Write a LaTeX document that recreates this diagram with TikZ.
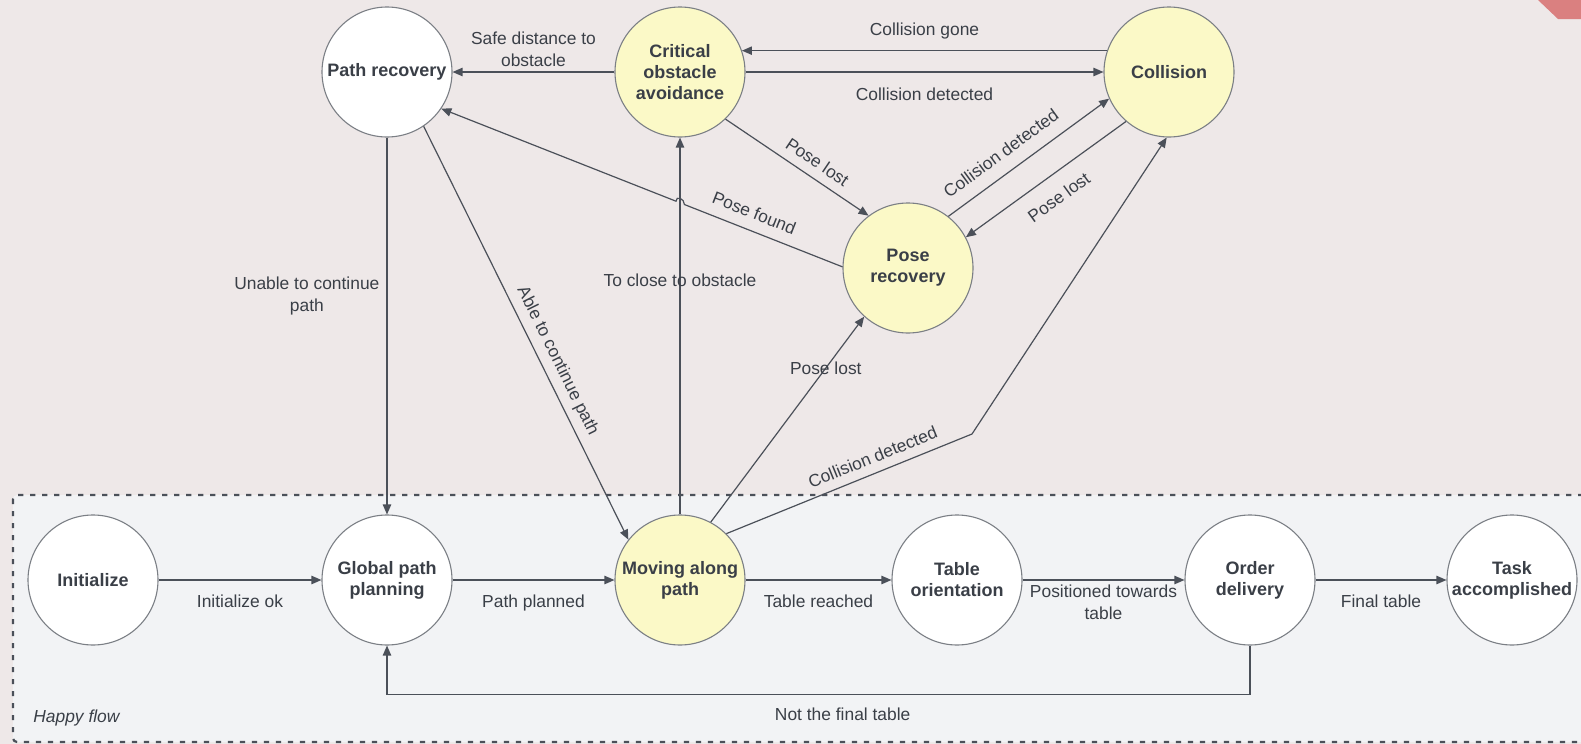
\documentclass[tikz,border=0pt]{standalone}
\usepackage{fontspec}
\setmainfont{Liberation Sans}
\usetikzlibrary{arrows.meta,positioning,calc}
\definecolor{Ink}{HTML}{3A3F47}
\definecolor{Wire}{HTML}{4B5059}
\definecolor{Edge}{HTML}{7B7F85}
\definecolor{Sun}{HTML}{FBF9C7}
\definecolor{Canvas}{HTML}{EEE8E8}
\definecolor{Lane}{HTML}{F2F3F5}
\definecolor{Coral}{HTML}{DA8080}
\tikzset{state/.style={circle,draw=Edge,line width=.55pt,fill=white,minimum size=65pt,inner sep=0pt,align=center,font=\bfseries\fontsize{9}{10.5}\selectfont,text=Ink},hot/.style={state,fill=Sun},flow/.style={-{Triangle[length=5pt,width=4.2pt]},line width=.6pt,draw=Wire},lab/.style={font=\fontsize{8.7}{11}\selectfont,text=Ink,align=center,inner sep=1.5pt}}

\begin{document}
\begin{tikzpicture}[x=.5pt,y=-.5pt]
\useasboundingbox (0,0) rectangle (1581,744);
\clip (0,0) rectangle (1581,744);
\fill[Canvas] (0,0) rectangle (1581,744);
\fill[Coral] (1538,0) -- (1558,19) -- (1581,19) -- (1581,0) -- cycle;
\draw[draw=Wire,fill=Lane,line width=1.1pt,dash pattern=on 2.6pt off 3.4pt,rounded corners=2pt] (13,495) rectangle (1600,742);
\node[lab,anchor=west,font=\itshape\fontsize{8.7}{11}\selectfont] (happy) at (30,718) {Happy flow};

\node[state] (pathrec) at (387,72) {Path recovery};
\node[hot] (critical) at (680,72) {Critical\\obstacle\\avoidance};
\node[hot] (collision) at (1169,72) {Collision};
\node[hot] (poserec) at (908,268) {Pose\\recovery};

\node[state] (init) at (93,580) {Initialize};
\node[state] (global) at (387,580) {Global path\\planning};
\node[hot] (moving) at (680,580) {Moving along\\path};
\node[state] (tableor) at (957,580) {Table\\orientation};
\node[state] (order) at (1250,580) {Order\\delivery};
\node[state] (task) at (1512,580) {Task\\accomplished};

\coordinate (kink) at (972,434);
\coordinate (hopR) at ($(poserec.179)!.394!(pathrec.326)$);
\coordinate (hopL) at ($(poserec.179)!.415!(pathrec.326)$);

\draw[flow] (critical.west) -- node[lab,above=1pt]{Safe distance to\\obstacle} (pathrec.east);
\draw[flow] (collision.161) -- node[lab,above=4pt]{Collision gone} (critical.19);
\draw[flow] (critical.east) -- node[lab,below=6pt]{Collision detected} (collision.west);
\draw[flow] (critical.314) -- node[lab,sloped,above=3pt,pos=.58]{Pose lost} (poserec.127);
\draw[flow] (poserec.52) -- node[lab,sloped,above=5pt,pos=.4]{Collision detected} (collision.204);
\draw[flow] (collision.229) -- node[lab,sloped,below=6pt,pos=.5]{Pose lost} (poserec.28);
\draw[flow] (poserec.179) -- node[lab,sloped,above=4pt,pos=.6]{Pose found} (hopR)
  .. controls +(0,-6) and +(0,-6) .. (hopL) -- (pathrec.326);
\draw[flow] (pathrec.south) -- node[lab,left=2pt,pos=.42]{Unable to continue\\path} (global.north);
\draw[flow] (pathrec.304) -- node[lab,sloped,above=2pt,pos=.585]{Able to continue path} (moving.142);
\draw[flow] (moving.north) -- node[lab,pos=.62]{To close to obstacle} (critical.south);
\draw[flow] (moving.62) -- node[lab,pos=.75]{Pose lost} (poserec.228);
\draw[flow] (moving.45) -- node[lab,sloped,above=3pt,pos=.62]{Collision detected} (kink) -- (collision.268);

\draw[flow] (init) -- node[lab,below=5.5pt]{Initialize ok} (global);
\draw[flow] (global) -- node[lab,below=5.5pt]{Path planned} (moving);
\draw[flow] (moving) -- node[lab,below=5.5pt]{Table reached} (tableor);
\draw[flow] (tableor) -- node[lab,below=.5pt]{Positioned towards\\table} (order);
\draw[flow] (order) -- node[lab,below=5.5pt]{Final table} (task);
\draw[flow] (order.south) -- ++(0,49) -| node[lab,below=5pt,pos=.236]{Not the final table} (global.south);
\end{tikzpicture}
\end{document}
